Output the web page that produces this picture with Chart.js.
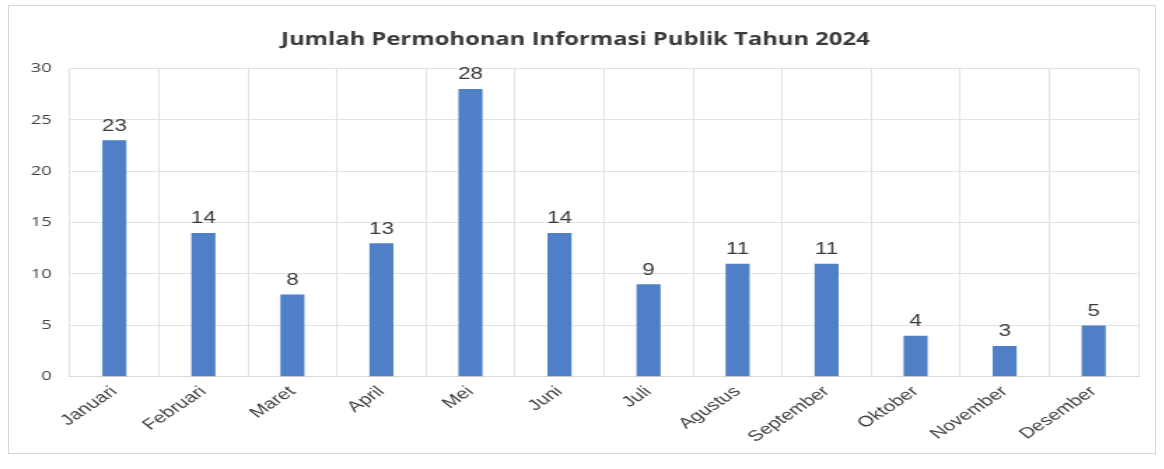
<!DOCTYPE html>
<html>
<head>
<meta charset="utf-8">
<script src="https://cdn.jsdelivr.net/npm/chart.js@4"></script>
<style>
  body { margin: 0; background: #fff; overflow: hidden; }
  #frame { position: absolute; left: 8px; top: 5px; width: 1146px; height: 447px; border: 1px solid #d6d6d6; }
  /* the scanned original is stretched sideways, so the drawing is widened the same way */
  #stretch { position: absolute; left: 0; top: 0; transform: scaleX(1.4); transform-origin: 0 0; }
</style>
</head>
<body>
<div id="frame"></div>
<div id="stretch"><canvas id="permohonanChart" width="831" height="469"></canvas></div>
<script>
const months = [
    'Januari', 'Februari', 'Maret', 'April', 'Mei', 'Juni',
    'Juli', 'Agustus', 'September', 'Oktober', 'November', 'Desember'
];

const jumlah = [23, 14, 8, 13, 28, 14, 9, 11, 11, 4, 3, 5];

const yTicks = [0, 5, 10, 15, 20, 25, 30];

// value above each bar
const valueLabels = {
    id: 'valueLabels',
    afterDatasetsDraw(chart) {
        const c = chart.ctx;
        const meta = chart.getDatasetMeta(0);
        c.save();
        c.font = '16px "Liberation Sans", Arial, sans-serif';
        c.fillStyle = '#3a3a3a';
        c.textAlign = 'center';
        c.textBaseline = 'bottom';
        meta.data.forEach((bar, i) => {
            c.fillText(jumlah[i], bar.x, bar.y - 6);
        });
        c.restore();
    }
};

const ctx = document.getElementById('permohonanChart').getContext('2d');

const myChart = new Chart(ctx, {
    type: 'bar',
    data: {
        labels: months,
        datasets: [{
            label: 'Jumlah',
            data: jumlah,
            backgroundColor: '#4f7fc6',
            barPercentage: 0.27,
            categoryPercentage: 1.0
        }]
    },
    options: {
        responsive: false,
        animation: false,
        layout: { padding: { left: 9, right: 18, top: 0, bottom: 17 } },
        plugins: {
            legend: { display: false },
            tooltip: { enabled: false },
            title: {
                display: true,
                text: 'Jumlah Permohonan Informasi Publik Tahun 2024',
                color: '#3a3a3a',
                font: { family: '"Open Sans", sans-serif', size: 17, weight: 'bold' },
                padding: { top: 30, bottom: 18 }
            }
        },
        scales: {
            x: {
                grid: { color: '#e2e2e2', drawTicks: false, offset: true },
                border: { color: '#d9d9d9' },
                ticks: {
                    color: '#404040',
                    font: { family: '"Liberation Sans", Arial, sans-serif', size: 15 },
                    maxRotation: 43,
                    minRotation: 43,
                    padding: 6
                }
            },
            y: {
                min: 0,
                max: 30,
                afterBuildTicks: (axis) => { axis.ticks = yTicks.map(v => ({ value: v })); },
                grid: { color: '#e2e2e2', drawTicks: false },
                border: { display: false },
                ticks: {
                    color: '#404040',
                    font: { family: '"Open Sans", sans-serif', size: 13 },
                    padding: 13
                }
            }
        }
    },
    plugins: [valueLabels]
});
</script>
</body>
</html>
